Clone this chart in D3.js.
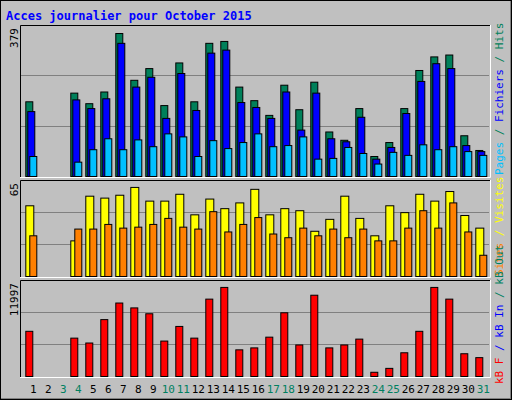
<!DOCTYPE html>
<meta charset="utf-8">
<head>
    <script src="https://cdn.jsdelivr.net/npm/d3@7/dist/d3.min.js"></script>
    <style>
        body { margin: 0; background: white; }
        text { font-family: "DejaVu Sans Mono", monospace; }
    </style>
</head>
<body>
<script>

    var days = d3.range(1, 32)
    var weekend = [3, 4, 10, 11, 17, 18, 24, 25, 31]

    // values (0 = no data)
    var hits  = [198,0,0,221,193,224,379,255,286,188,301,198,353,358,237,201,162,242,177,250,118,96,180,53,90,180,281,317,322,108,69]
    var files = [172,0,0,203,180,206,353,237,263,154,273,175,327,335,196,183,154,224,123,221,100,92,157,46,77,167,252,299,286,82,66]
    var pages = [53,0,0,38,71,100,71,97,79,113,105,53,95,74,90,113,79,82,105,46,48,77,61,33,64,56,84,71,79,66,56]
    var visits = [51.6,0,0,26,58.6,57.2,59.3,65,55,55,60,45,56.5,49.5,53.7,63.6,45,49.5,48,33,41.7,58.6,42.4,29.7,51.6,46.6,60,55,62,44.5,35.3]
    var sites  = [29.7,0,0,34.6,34.6,38,35.3,36,38,42.4,36,34.6,47.3,32.5,38,43,31,28.3,35.3,29.7,34.6,28.3,34.6,26,26,35.3,48,35.3,53.7,32.5,15.5]
    var kbytes = [6086,0,0,5167,4510,7662,9895,9238,8450,4772,6743,5167,10420,11997,3590,3853,5298,8582,4247,10946,3853,4247,5035,569,1095,3196,6086,11997,10420,3065,2540]

    var width = 512, height = 400

    var svg = d3.select("body").append("svg")
        .attr("width", width).attr("height", height)

    svg.append("rect").attr("x", 0.5).attr("y", 0.5).attr("width", width - 1).attr("height", height - 1)
        .attr("fill", "#c0c0c0").attr("stroke", "black")
    svg.append("line").attr("x1", 1).attr("x2", 511).attr("y1", 398.5).attr("y2", 398.5).attr("stroke", "#808080")
    svg.append("line").attr("x1", 510.5).attr("x2", 510.5).attr("y1", 1).attr("y2", 399).attr("stroke", "#808080")

    svg.append("text").attr("x", 6).attr("y", 20)
        .attr("fill", "#0000ff").attr("font-weight", "bold").attr("font-size", 12)
        .text("Acces journalier pour October 2015")

    var x = d3.scaleBand().domain(days).range([25.3 - 2.5, 25.3 - 2.5 + 15 * 31]).paddingInner(0)
    var x0 = d => x(d) + 2.5

    function panel(top, bottom, max, label) {
        var g = svg.append("g")
        g.append("rect").attr("x", 20).attr("y", top).attr("width", 470).attr("height", bottom - top + 2)
            .attr("fill", "#c0c0c0")
        var y = d3.scaleLinear().domain([0, max]).range([bottom, top + 5 + (bottom - top) * 0.02])
        var h = bottom - top
        ;[1 / 3, 2 / 3].forEach(f => {
            g.append("line").attr("x1", 21).attr("x2", 489)
                .attr("y1", Math.round(bottom - h * f) + 0.5).attr("y2", Math.round(bottom - h * f) + 0.5)
                .attr("stroke", "#808080")
        })
        g.append("path").attr("d", `M20.5,${bottom + 2}V${top + 0.5}H490`).attr("fill", "none").attr("stroke", "black")
        g.append("path").attr("d", `M20,${bottom + 1.5}H490.5V${top}`).attr("fill", "none").attr("stroke", "white")
        g.append("text").attr("transform", `translate(18,${top + 3}) rotate(-90)`)
            .attr("text-anchor", "end").attr("font-size", 11).text(label)
        return y
    }

    function bars(y, data, off, w, color) {
        svg.append("g").selectAll("rect").data(days.filter((d, i) => data[i] > 0)).enter().append("rect")
            .attr("x", d => x0(d) + off + 0.5).attr("width", w)
            .attr("y", d => y(data[d - 1]) + 0.5)
            .attr("height", d => y(0) - y(data[d - 1]))
            .attr("fill", color).attr("stroke", "black")
    }

    var y1 = panel(25, 176, 379, "379")
    bars(y1, hits, 0, 7, "#00805a")
    bars(y1, files, 2, 7, "#0000ff")
    bars(y1, pages, 4, 7, "#00c0ff")

    var y2 = panel(180, 276, 65, "65")
    bars(y2, visits, 0, 8, "#ffff00")
    bars(y2, sites, 4, 7, "#ff8000")

    var y3 = panel(280, 376, 11997, "11997")
    bars(y3, kbytes, 0, 7, "#ff0000")

    svg.append("g").selectAll("text").data(days).enter().append("text")
        .attr("x", d => x0(d) + 8).attr("y", 393).attr("text-anchor", "middle").attr("font-size", 11)
        .attr("fill", d => weekend.includes(d) ? "#008060" : "black")
        .text(d => d)

    function sideLabel(yBottom, parts) {
        var t = svg.append("text").attr("transform", `translate(503,${yBottom}) rotate(-90)`)
            .attr("font-size", 11)
        parts.forEach(p => t.append("tspan").attr("fill", p[1]).text(p[0]))
    }
    sideLabel(175, [["Pages", "#00c0ff"], [" / ", "#00805a"], ["Fichiers", "#0000ff"], [" / ", "#00805a"], ["Hits", "#00805a"]])
    sideLabel(276, [["Sites", "#ff8000"], [" / ", "#ffff00"], ["Visites", "#ffff00"]])
    sideLabel(384, [["kB F", "#ff0000"], [" / ", "#0000ff"], ["kB In", "#0000ff"], [" / ", "#008060"], ["kB Out", "#008060"]])

</script>
</body>
</html>
